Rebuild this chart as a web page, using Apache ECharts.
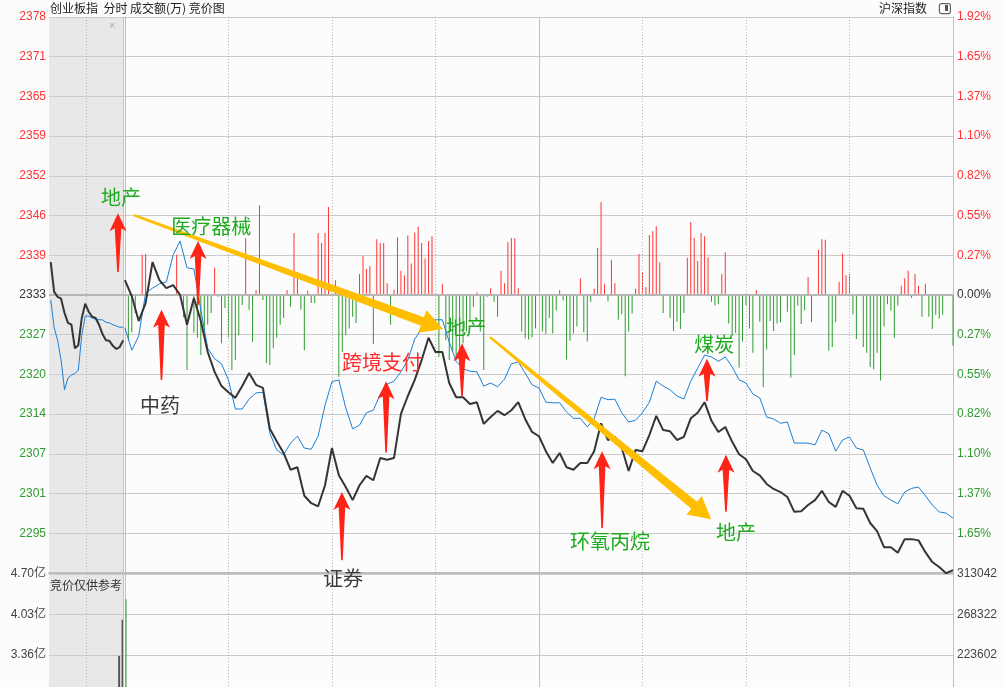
<!DOCTYPE html>
<html><head><meta charset="utf-8">
<script src="https://cdn.jsdelivr.net/npm/echarts@6/dist/echarts.min.js"></script>
<style>html,body{margin:0;padding:0;background:#fcfcfc;overflow:hidden;width:1004px;height:687px;}#c{width:1004px;height:860px;}</style>
</head><body><div id="c"></div>
<script>
// ---------- data ----------
const BASE = 2333;                 // previous close
const STEP = BASE / 364;           // one grid step (~0.2747%)
const titleText = '创业板指  分时 成交额(万) 竞价图';
const overlayName = '沪深指数';
const volPanelNote = '竞价仅供参考';

// call auction (9:15-9:25), one value per auction slot
const auctionPrice = [2338.3,2333.5,2332.7,2332.4,2330.1,2328.5,2328.2,2324.4,2324.9,2329.3,2331.6,2330.3,2329.5,2329.3,2328.2,2326.7,2325.7,2325.6,2324.8,2324.3,2324.6,2325.7];
const auctionIndex = [2332.2,2327.7,2325.7,2322.5,2317.7,2319.6,2320.1,2320.3,2320.9,2326.5,2329.6,2329.6,2329.3,2329.1,2329.0,2329.0,2328.6,2328.5,2328.2,2328.0,2327.8,2327.8];
const auctionVolume = [3.34, 3.94];   // 亿, last two auction slots
const openVolume = 4.28;              // 亿, 9:30

// continuous session, one sample every 2 minutes (9:30 .. 15:00)
const pricePer2Min = [
 2335.4,2332.8,2328.8,2331.7,2338.3,2335.4,2334.1,2334.6,2333.0,2328.2,
 2332.5,2328.8,2323.8,2320.6,2318.3,2317.3,2316.4,2318.3,2320.4,2318.5,
 2318.0,2311.4,2309.4,2307.5,2304.8,2305.2,2300.6,2299.4,2298.9,2302.3,
 2308.3,2303.9,2302.0,2299.9,2302.3,2303.8,2303.1,2306.7,2306.4,2306.7,
 2313.8,2316.7,2319.3,2322.5,2326.1,2323.8,2323.8,2318.8,2316.5,2316.5,
 2315.4,2315.7,2312.2,2313.3,2314.3,2313.6,2314.4,2315.7,2313.0,2310.9,
 2310.2,2307.8,2305.9,2307.5,2305.2,2304.8,2305.9,2305.9,2307.8,2312.3,
 2309.6,2310.1,2308.3,2304.6,2308.0,2307.8,2310.4,2313.5,2311.2,2311.0,
 2309.6,2310.1,2313.1,2314.0,2315.7,2312.7,2310.9,2311.7,2309.3,2307.3,
 2306.5,2304.6,2303.9,2302.5,2301.7,2301.2,2300.4,2298.0,2298.1,2299.1,
 2299.9,2301.4,2299.6,2298.8,2301.4,2300.6,2298.6,2298.5,2296.2,2294.9,
 2292.3,2292.3,2291.4,2293.6,2293.6,2293.4,2291.5,2289.9,2289.1,2288.1,2288.6];
const indexPer2Min = [
 2327.7,2324.1,2326.4,2333.3,2334.1,2334.8,2335.1,2339.5,2341.7,2337.4,
 2337.2,2330.6,2324.4,2322.7,2321.9,2319.3,2314.6,2314.6,2316.2,2317.2,
 2317.3,2310.7,2308.0,2307.2,2309.1,2310.2,2308.3,2308.1,2310.2,2315.2,
 2319.0,2319.3,2314.8,2311.4,2312.0,2314.0,2314.4,2317.0,2318.6,2319.1,
 2320.6,2322.5,2325.9,2327.5,2329.3,2329.0,2329.0,2325.4,2322.3,2321.1,
 2320.7,2320.6,2318.3,2318.8,2318.2,2319.4,2321.9,2322.2,2320.4,2318.5,
 2318.0,2315.7,2315.6,2315.6,2314.1,2313.1,2313.1,2311.7,2313.0,2316.5,
 2316.1,2316.2,2314.0,2312.5,2312.8,2314.0,2315.7,2319.1,2318.3,2317.7,
 2316.7,2316.2,2319.1,2321.2,2323.3,2323.0,2322.3,2323.0,2321.4,2319.3,
 2318.8,2317.0,2316.4,2313.3,2313.0,2312.3,2312.5,2309.1,2309.1,2309.1,
 2308.8,2311.2,2310.6,2307.8,2309.6,2310.1,2308.3,2308.0,2305.1,2302.3,
 2300.6,2299.9,2299.3,2301.2,2301.8,2302.0,2300.6,2299.1,2298.0,2297.8,2297.0];

// buy/sell force bars: [minute after 9:30, points above/below previous close]
const flowBars = [
 [1,-7.3],[2,-6.0],[3,-2.9],[5,6.5],[6,6.6],[15,6.5],[17,-3.6],[18,-12.1],[20,-6.1],[21,-6.9],[22,-9.7],[23,-6.1],[24,-4.8],[25,-2.9],
 [26,4.4],[27,-0.3],[28,-7.8],[29,-2.1],[30,-6.8],[31,-12.1],[32,-10.5],[33,-6.5],[34,-1.6],[35,9.2],[36,-2.4],[37,-7.6],[38,0.8],[39,14.5],
 [40,-0.8],[41,-11.0],[42,-11.3],[43,-8.6],[44,-6.9],[45,-4.8],[46,-3.7],[47,0.8],[48,-1.9],[49,10.0],[50,3.7],[51,-2.4],[52,-8.9],[53,0.7],
 [54,-1.3],[55,-1.3],[56,10.0],[57,8.4],[58,10.0],[59,14.2],[61,2.4],[62,-13.2],[63,-9.2],[64,-6.5],[65,-5.4],[66,-3.5],[67,-4.5],[68,3.4],
 [69,6.3],[70,4.2],[71,4.7],[72,-7.9],[73,9.0],[74,8.4],[75,8.4],[76,1.9],[77,-4.8],[78,0.9],[79,9.3],[80,3.9],[81,3.2],[82,9.6],[83,5.1],
 [84,10.1],[85,11.0],[86,8.4],[87,5.9],[88,8.7],[89,9.5],[91,-10.0],[92,1.8],[93,-7.3],[94,-10.5],[95,-9.2],[96,-10.5],[97,-9.4],[98,-7.8],
 [99,-5.9],[100,-4.3],[101,-1.9],[102,0.4],[103,-5.9],[104,-12.1],[105,-0.3],[106,1.1],[107,-1.1],[108,-3.5],[109,3.9],[110,1.9],[111,8.5],
 [112,9.2],[113,9.2],[114,1.1],[115,-5.9],[116,-7.0],[117,-7.2],[118,-6.8],[119,-5.4],[121,-5.9],[122,-6.3],[123,-3.7],[124,-6.2],[125,-2.5],
 [126,0.8],[127,-0.9],[128,-10.4],[129,-7.4],[130,-6.2],[131,-5.1],[132,2.7],[133,-6.0],[134,-7.5],[135,-1.1],[136,1.0],[137,7.6],[138,15.0],
 [139,1.8],[140,-1.0],[141,5.7],[142,1.9],[143,-4.0],[144,-3.1],[145,-13.1],[146,-5.9],[147,-3.0],[148,1.0],[149,6.6],[150,3.6],[151,1.3],
 [152,9.7],[153,10.3],[154,11.1],[155,5.3],[156,-2.9],[157,0.2],[158,-3.7],[159,-5.8],[160,-4.3],[161,-5.5],[162,-2.9],[163,6.0],[164,11.8],
 [165,9.2],[166,5.5],[167,10.0],[168,9.5],[169,6.1],[170,-1.1],[171,-1.7],[172,-1.5],[173,3.4],[174,6.9],[175,-4.6],[176,-6.6],[177,-6.1],
 [178,-11.7],[179,-7.5],[180,-1.7],[181,-5.4],[182,-9.3],[183,0.8],[184,-4.3],[185,-14.9],[186,-8.8],[187,-4.2],[188,-5.8],[189,-4.6],
 [190,-4.4],[191,0.1],[192,-2.7],[193,-13.3],[194,-9.7],[195,-1.7],[196,-4.7],[197,-2.5],[198,2.9],[199,-4.4],[200,0.1],[201,7.3],[202,9.0],
 [203,8.9],[204,-9.0],[205,-8.4],[206,-4.4],[207,2.1],[208,6.7],[209,3.2],[210,3.4],[211,-3.1],[212,-7.1],[214,-8.4],[215,-9.3],[216,-11.6],
 [217,-12.0],[218,-9.3],[219,-13.8],[220,-5.1],[221,-1.5],[222,-2.5],[223,-6.9],[224,-1.7],[225,1.5],[226,2.7],[227,3.9],[228,-0.5],[229,3.4],
 [230,1.5],[231,-3.5],[232,1.8],[233,-3.5],[234,-5.5],[235,-3.2],[236,-3.8],[237,-3.2],[240,-8.2]];

// time grid (minutes after 9:30; negative = auction)
const dottedTimes = [-11.3, 30, 60, 90, 150, 180, 210];
const solidTimes = [-0.5, 120];

// volume axis tick labels
const volRightLabels = ['313042', '268322', '223602'];

// annotations: red up-arrows [tipMinute, tipPrice, tailPrice]
const sectorArrows = [
 [-2.0,2346.2,2336.7],[10.6,2330.6,2319.3],[21.2,2341.7,2331.4],[75.7,2319.1,2307.6],[62.9,2301.2,2290.2],
 [97.7,2325.2,2316.7],[138.3,2307.8,2295.4],[168.7,2322.7,2315.9],[174.2,2307.2,2298.0]];
// sector labels [text, colour, minute, price]
const sectorTags = [
 ['地产','g',-1.1,2348.8],['中药','k',10.2,2315.2],['医疗器械','g',25.0,2344.1],['跨境支付','r',74.5,2322.2],
 ['证券','k',63.2,2287.2],['地产','g',98.9,2327.8],['环氧丙烷','g',140.6,2293.3],['煤炭','g',170.8,2325.1],['地产','g',177.1,2294.7]];
// yellow trend arrows [fromMinute, fromPrice, toMinute, toPrice]
const trendArrows = [[2.6,2345.9,92.2,2327.5],[105.8,2326.2,169.9,2296.8]];

// ---------- chart ----------
const RED = '#ff3333', GREEN = '#2e9b2e', DARK = '#333333';
const tagColors = {g:'#1faa1f', r:'#ff2a2a', k:'#3a3a3a'};
const NUMFONT = 'Liberation Sans, Noto Sans CJK SC';
const CJK = 'Noto Sans CJK SC';
const PMIN = 357 * STEP, PMAX = 371 * STEP;
const XMIN = -22, XMAX = 240;
const VSTEP = 4.70 / 7;

function priceColor(v) {
  v = parseFloat(v);
  if (Math.abs(v - BASE) < 0.01) return DARK;
  return v > BASE ? RED : GREEN;
}

const chart = echarts.init(document.getElementById('c'), null, {renderer: 'canvas'});

const vLines = dottedTimes.map(t => ({xAxis: t, lineStyle: {color: '#b4b4b4', type: [1, 2], width: 1}}))
  .concat(solidTimes.map(t => ({xAxis: t, lineStyle: {color: '#c2c2c2', type: 'solid', width: 1}})));

const option = {
  animation: false,
  backgroundColor: '#fcfcfc',
  grid: [
    {left: 49, top: 17, width: 904, height: 556},
    {left: 49, top: 574, width: 904, height: 283}
  ],
  xAxis: [
    {type: 'value', gridIndex: 0, min: XMIN, max: XMAX, z: 3,
     axisLine: {show: true, onZero: false, lineStyle: {color: '#bdbdbd', width: 2}},
     axisTick: {show: false}, axisLabel: {show: false}, splitLine: {show: false}},
    {type: 'value', gridIndex: 1, min: XMIN, max: XMAX,
     axisLine: {show: false}, axisTick: {show: false}, axisLabel: {show: false}, splitLine: {show: false}}
  ],
  yAxis: [
    {type: 'value', gridIndex: 0, position: 'left', min: PMIN, max: PMAX, interval: STEP, z: 3,
     axisLine: {show: true, lineStyle: {color: '#c0c0c0'}}, axisTick: {show: false},
     splitLine: {show: true, lineStyle: {color: '#cbcbcb', width: 1}},
     axisLabel: {showMinLabel: false, margin: 3, fontFamily: NUMFONT, fontSize: 12,
       formatter: v => String(Math.round(v)), color: v => priceColor(v)}},
    {type: 'value', gridIndex: 0, position: 'right', min: PMIN, max: PMAX, interval: STEP, z: 3,
     axisLine: {show: true, lineStyle: {color: '#c0c0c0'}}, axisTick: {show: false}, splitLine: {show: false},
     axisLabel: {showMinLabel: false, margin: 4, fontFamily: NUMFONT, fontSize: 12,
       formatter: v => (Math.abs(v - BASE) / BASE * 100).toFixed(2) + '%', color: v => priceColor(v)}},
    {type: 'value', gridIndex: 0, min: -7 * STEP, max: 7 * STEP, show: false, splitLine: {show: false}},
    {type: 'value', gridIndex: 1, position: 'left', min: 0, max: 4.70, interval: VSTEP, z: 3,
     axisLine: {show: true, lineStyle: {color: '#c0c0c0'}}, axisTick: {show: false},
     splitLine: {show: true, lineStyle: {color: '#cbcbcb'}},
     axisLabel: {showMinLabel: false, margin: 3, fontFamily: NUMFONT, fontSize: 12, color: '#444',
       formatter: v => v.toFixed(2) + '亿'}},
    {type: 'value', gridIndex: 1, position: 'right', min: 0, max: 4.70, interval: VSTEP, z: 3,
     axisLine: {show: true, lineStyle: {color: '#c0c0c0'}}, axisTick: {show: false}, splitLine: {show: false},
     axisLabel: {showMinLabel: false, margin: 4, fontFamily: NUMFONT, fontSize: 12, color: '#444',
       formatter: v => { const k = Math.round(v / VSTEP); return volRightLabels[7 - k] || ''; }}}
  ],
  series: [
    {type: 'line', xAxisIndex: 0, yAxisIndex: 0, data: [[0, BASE]], showSymbol: false, lineStyle: {opacity: 0}, z: 1, silent: true,
     markArea: {silent: true, itemStyle: {color: '#e8e8e8'}, data: [[{xAxis: XMIN}, {xAxis: -0.5}]]}},
    {type: 'line', xAxisIndex: 0, yAxisIndex: 0, data: [[0, BASE]], showSymbol: false, lineStyle: {opacity: 0}, z: 2, silent: true,
     markLine: {silent: true, symbol: ['none', 'none'], label: {show: false}, animation: false,
       data: vLines.concat([{yAxis: BASE, lineStyle: {color: '#b6b6b6', width: 2, type: 'solid'}}])}},
    {type: 'line', xAxisIndex: 1, yAxisIndex: 3, data: [[0, 0]], showSymbol: false, lineStyle: {opacity: 0}, z: 1, silent: true,
     markArea: {silent: true, itemStyle: {color: '#e8e8e8'}, data: [[{xAxis: XMIN}, {xAxis: -0.5}]]}},
    {type: 'line', xAxisIndex: 1, yAxisIndex: 3, data: [[0, 0]], showSymbol: false, lineStyle: {opacity: 0}, z: 2, silent: true,
     markLine: {silent: true, symbol: ['none', 'none'], label: {show: false}, animation: false, data: vLines}},
    {name: 'flow', type: 'bar', xAxisIndex: 0, yAxisIndex: 2, barWidth: 1, z: 4, silent: true,
     data: flowBars.map(([m, v]) => ({value: [m, v], itemStyle: {color: v >= 0 ? RED : '#2f9a2f'}}))},
    {name: overlayName, type: 'line', xAxisIndex: 0, yAxisIndex: 0, showSymbol: false, z: 6, silent: true,
     lineStyle: {color: '#1b7fd6', width: 1}, data: auctionIndex.map((p, i) => [-21.5 + i, p])},
    {name: overlayName + '2', type: 'line', xAxisIndex: 0, yAxisIndex: 0, showSymbol: false, z: 6, silent: true,
     lineStyle: {color: '#1b7fd6', width: 1}, data: indexPer2Min.map((p, k) => [2 * k, p])},
    {name: 'auction', type: 'line', xAxisIndex: 0, yAxisIndex: 0, showSymbol: false, z: 7, silent: true,
     lineStyle: {color: '#353535', width: 2}, data: auctionPrice.map((p, i) => [-21.5 + i, p])},
    {name: 'price', type: 'line', xAxisIndex: 0, yAxisIndex: 0, showSymbol: false, z: 7, silent: true,
     lineStyle: {color: '#353535', width: 2}, data: pricePer2Min.map((p, k) => [2 * k, p])},
    {type: 'bar', xAxisIndex: 1, yAxisIndex: 3, barWidth: 2, z: 4, silent: true,
     itemStyle: {color: '#555555'}, data: auctionVolume.map((v, i) => [-1.5 + i, v])},
    {type: 'bar', xAxisIndex: 1, yAxisIndex: 3, barWidth: 1, z: 4, silent: true,
     itemStyle: {color: '#2f9a2f'}, data: [[0, openVolume]]}
  ]
};
chart.setOption(option);

// ---------- annotations (positioned through the axes) ----------
function px(m, p) { return chart.convertToPixel({xAxisIndex: 0, yAxisIndex: 0}, [m, p]); }
const g = [];
g.push({type: 'text', z: 100, left: 50, top: 2, style: {text: titleText, fill: '#222', font: '12px ' + CJK}});
g.push({type: 'text', z: 100, right: 77, top: 2, style: {text: overlayName, fill: '#222', font: '12px ' + CJK}});
g.push({type: 'rect', z: 100, right: 53, top: 3, shape: {width: 11, height: 10, r: 2}, style: {fill: '#fff', stroke: '#666', lineWidth: 1.2}});
g.push({type: 'rect', z: 101, right: 56, top: 5, shape: {width: 3, height: 6}, style: {fill: '#555'}});
g.push({type: 'text', z: 100, left: 109, top: 20, style: {text: '×', fill: '#aaa', font: '11px ' + NUMFONT}});
g.push({type: 'text', z: 100, left: 50, top: 579, style: {text: volPanelNote, fill: '#333', font: '12px ' + CJK}});

sectorArrows.forEach(([m, tp, bp]) => {
  const [tx, ty] = px(m, tp);
  const by = px(m, bp)[1];
  g.push({type: 'polygon', z: 50, shape: {points: [
    [tx, ty], [tx + 8.5, ty + 18], [tx + 3.3, ty + 15], [tx + 0.8, by], [tx - 0.8, by], [tx - 3.3, ty + 15], [tx - 8.5, ty + 18]]},
    style: {fill: '#ff2318'}});
});
trendArrows.forEach(([m0, p0, m1, p1]) => {
  const [x0, y0] = px(m0, p0), [x1, y1] = px(m1, p1);
  const L = Math.hypot(x1 - x0, y1 - y0), ux = (x1 - x0) / L, uy = (y1 - y0) / L, nx = -uy, ny = ux;
  const hl = 22, bx = x1 - ux * hl, byy = y1 - uy * hl;
  const w0 = 1.2, w1 = 4.5, hw = 12;
  g.push({type: 'polygon', z: 55, shape: {points: [
    [x0 + nx * w0, y0 + ny * w0], [bx + nx * w1, byy + ny * w1], [bx + nx * hw, byy + ny * hw], [x1, y1],
    [bx - nx * hw, byy - ny * hw], [bx - nx * w1, byy - ny * w1], [x0 - nx * w0, y0 - ny * w0]]},
    style: {fill: '#ffbf00'}});
});
sectorTags.forEach(([t, c, m, p]) => {
  const [x, y] = px(m, p);
  g.push({type: 'text', z: 60, x: x, y: y, style: {text: t, fill: tagColors[c], font: '20px ' + CJK, align: 'center', verticalAlign: 'middle'}});
});
chart.setOption({graphic: g});
</script>
</body></html>
